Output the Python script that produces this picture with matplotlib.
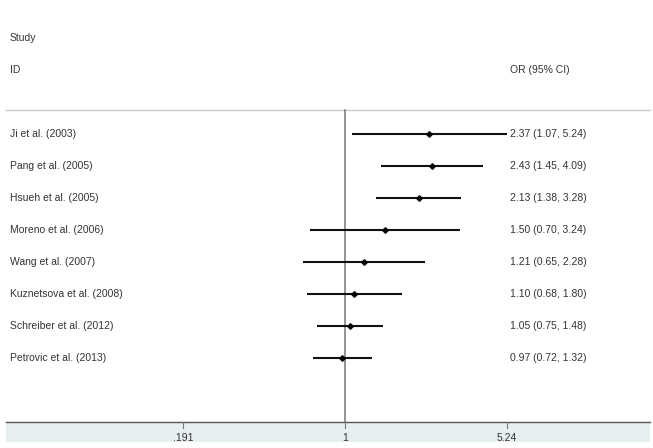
import matplotlib
matplotlib.use("Agg")
import matplotlib.pyplot as plt
import numpy as np

studies = ["Ji et al. (2003)", "Pang et al. (2005)", "Hsueh et al. (2005)",
           "Moreno et al. (2006)", "Wang et al. (2007)", "Kuznetsova et al. (2008)",
           "Schreiber et al. (2012)", "Petrovic et al. (2013)"]
or_vals = [2.37, 2.43, 2.13, 1.50, 1.21, 1.10, 1.05, 0.97]
ci_low = [1.07, 1.45, 1.38, 0.70, 0.65, 0.68, 0.75, 0.72]
ci_high = [5.24, 4.09, 3.28, 3.24, 2.28, 1.80, 1.48, 1.32]
xticks = [0.191, 1, 5.24]
xtick_labels = [".191", "1", "5.24"]

plt.rcParams['font.family'] = ['Liberation Sans', 'DejaVu Sans']
fs = 7.5
tc = '#333333'

fig = plt.figure(figsize=(6.53, 4.48), dpi=100)
ax = fig.add_axes([0, 0, 1, 1])
ax.set_xscale('log')
ax.set_xlim(10 ** -1.533, 10 ** 1.369)
# row i sits at pixel 133.5 + 32.1*i
ax.set_ylim((448 - 133.5) / 32.1, -133.5 / 32.1)
ax.axis('off')

blend_ax_x = matplotlib.transforms.blended_transform_factory(ax.transAxes, ax.transData)

def py(p):
    return (p - 133.5) / 32.1

# header
ax.text(10 / 653, py(38), "Study", transform=blend_ax_x, fontsize=fs, va='center', ha='left', color=tc)
ax.text(10 / 653, py(70), "ID", transform=blend_ax_x, fontsize=fs, va='center', ha='left', color=tc)
ax.text(510 / 653, py(70), "OR (95% CI)", transform=blend_ax_x, fontsize=fs, va='center', ha='left', color=tc)

# light gray separator
ax.plot([6 / 653, 650 / 653], [py(110), py(110)], transform=blend_ax_x, color='#c8c8c8', lw=1.0)

# bottom band
ax.fill_between([6 / 653, 650 / 653], py(422), py(442), transform=blend_ax_x, color='#e8eff0', lw=0, zorder=0)
ax.plot([6 / 653, 650 / 653], [py(422), py(422)], transform=blend_ax_x, color='#555555', lw=1.0, zorder=3)

# null line
ax.plot([1, 1], [py(110), py(422)], color='#777777', lw=1.1, zorder=2)

# ticks
for t, lab in zip(xticks, xtick_labels):
    ax.plot([t, t], [py(422), py(428)], color='#777777', lw=0.8, zorder=3)
    ax.text(t, py(437.5), lab, fontsize=fs, ha='center', va='center', color=tc)

# estimates
for i, (s, o, lo, hi) in enumerate(zip(studies, or_vals, ci_low, ci_high)):
    ax.plot([lo, hi], [i, i], color='#111111', lw=1.5, solid_capstyle='butt', zorder=4)
    ax.plot([o], [i], marker='D', ms=2.8, color='black', zorder=5)
    ax.text(10 / 653, i, s, transform=blend_ax_x, fontsize=fs, va='center', ha='left', color=tc)
    ax.text(510 / 653, i, f"{o:.2f} ({lo:.2f}, {hi:.2f})", transform=blend_ax_x,
            fontsize=fs, va='center', ha='left', color=tc)

fig.savefig("out.png", dpi=100)
